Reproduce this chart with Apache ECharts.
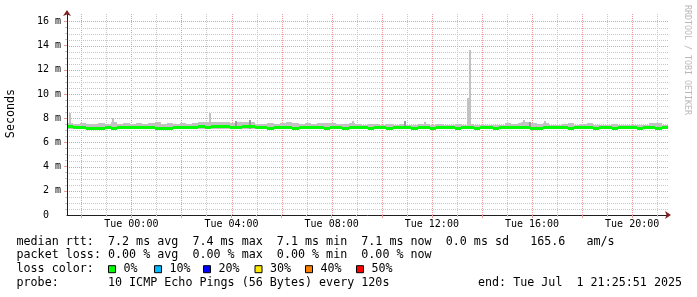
<!DOCTYPE html>
<html><head><meta charset="utf-8">
<script src="https://cdn.jsdelivr.net/npm/echarts@6/dist/echarts.min.js"></script>
<style>html,body{margin:0;padding:0;background:#fff}#c{width:697px;height:297px}</style>
</head><body><div id="c"></div>
<script>
// ---- time window (hours relative to Tue 00:00) ----
const T_START = -2.5692;   // Mon 21:25:51
const T_END = 21.4308;     // Tue 21:25:51
const STEP = 0.25;         // sample width in hours
const Y_MAX = 16.7;        // ms
const SMOKE_LO = 7.1;

// median rtt (ms), one value per STEP
const median = [
  7.28,7.27,7.20,7.18,7.18,7.18,7.20,7.18,7.20,7.20,
  7.22,7.24,7.24,7.22,7.18,7.17,7.18,7.20,7.25,7.27,
  7.27,7.28,7.27,7.30,7.33,7.32,7.22,7.26,7.28,7.35,
  7.22,7.20,7.18,7.20,7.22,7.20,7.18,7.20,7.20,7.22,
  7.20,7.18,7.20,7.20,7.18,7.20,7.22,7.20,7.18,7.20,
  7.20,7.18,7.20,7.22,7.20,7.18,7.20,7.20,7.18,7.20,
  7.20,7.20,7.18,7.20,7.20,7.18,7.20,7.20,7.18,7.20,
  7.20,7.22,7.26,7.27,7.15,7.15,7.20,7.20,7.22,7.20,
  7.18,7.20,7.22,7.20,7.18,7.20,7.20,7.18,7.20,7.22,
  7.20,7.18,7.20,7.20,7.18,7.20
];
// top of smoke (ms), one value per STEP
const smokeHi = [
  7.62,7.55,7.58,7.50,7.55,7.62,7.55,7.66,7.55,7.60,
  7.55,7.62,7.55,7.60,7.66,7.55,7.60,7.55,7.62,7.55,
  7.60,7.66,7.66,7.70,7.66,7.70,7.60,7.70,7.66,7.72,
  7.55,7.55,7.60,7.55,7.58,7.68,7.58,7.52,7.58,7.52,
  7.58,7.64,7.58,7.52,7.52,7.62,7.52,7.48,7.52,7.52,
  7.48,7.52,7.46,7.52,7.48,7.46,7.52,7.52,7.46,7.52,
  7.48,7.46,7.52,7.46,7.52,7.48,7.46,7.44,7.48,7.46,
  7.58,7.52,7.62,7.68,7.62,7.52,7.62,7.48,7.46,7.52,
  7.58,7.48,7.52,7.58,7.48,7.46,7.48,7.52,7.46,7.44,
  7.48,7.44,7.48,7.58,7.58,7.48
];
// narrow smoke spikes: [start hour, top ms, shade (0 light, 1 dark)]
const spikes = [
  [-2.50, 8.45, 0], [-0.77, 8.00, 0], [3.10, 8.40, 0], [4.14, 7.77, 1],
  [4.70, 7.85, 1], [6.30, 7.66, 0], [7.78, 7.60, 0], [8.81, 7.77, 0],
  [10.89, 7.80, 1], [11.69, 7.70, 0], [13.41, 9.70, 0], [13.49, 13.60, 0],
  [15.56, 7.65, 0], [15.64, 7.85, 0], [15.88, 7.70, 1], [16.48, 7.80, 0],
  [17.48, 7.60, 0], [18.08, 7.55, 0]
];

const yTicks = [0, 2, 4, 6, 8, 10, 12, 14, 16];
const yTickLabels = ['0', '2 m', '4 m', '6 m', '8 m', '10 m', '12 m', '14 m', '16 m'];
const xTickHours = [0, 4, 8, 12, 16, 20];
const xTickLabels = ['Tue 00:00', 'Tue 04:00', 'Tue 08:00', 'Tue 12:00', 'Tue 16:00', 'Tue 20:00'];
// grid positions: major every 2 h / 2 ms, minor every 1 h / 0.5 ms
const majorHours = [-2, 0, 2, 4, 6, 8, 10, 12, 14, 16, 18, 20];
const minorHours = [-1, 1, 3, 5, 7, 9, 11, 13, 15, 17, 19, 21];
const majorY = [2, 4, 6, 8, 10, 12, 14, 16];
const minorY = [];
for (let v = 0.5; v < 16; v += 0.5) if (v % 2 !== 0) minorY.push(v);

const legendLine1 = 'median rtt:  7.2 ms avg  7.4 ms max  7.1 ms min  7.1 ms now  0.0 ms sd   165.6   am/s';
const legendLine2 = 'packet loss: 0.00 % avg  0.00 % max  0.00 % min  0.00 % now';
const legendLine3 = 'loss color:';
const lossLabels = ['0%', '10%', '20%', '30%', '40%', '50%'];
const lossColors = ['#00ff00', '#00b8ff', '#0000ff', '#ffe800', '#ff8000', '#ff0000'];
const probeLabel = 'probe:       10 ICMP Echo Pings (56 Bytes) every 120s';
const endLabel = 'end: Tue Jul  1 21:25:51 2025';
const yAxisTitle = 'Seconds';
const watermark = 'RRDTOOL / TOBI OETIKER';

// ---- styles ----
const MONO = '"DejaVu Sans Mono", monospace';
const MGRID = '#ec9a9a';
const GRID = '#c8c8c8';
const AXIS = '#1f1f1f';
const ARROW = '#801f1f';
const SMOKE_LIGHT = '#c2c2c2';
const SMOKE_DARK = '#999999';
const GREEN = '#00ff00';
const SPIKE_W = 0.08;
const DASH = [1, 1];

const chart = echarts.init(document.getElementById('c'), null, {renderer: 'canvas'});

function rectFrom(api, t0, t1, v0, v1) {
  const a = api.coord([t0, v1]);
  const b = api.coord([t1, v0]);
  const x0 = Math.round(a[0]), x1 = Math.round(b[0]);
  const y0 = Math.round(a[1]), y1 = Math.round(b[1]);
  return {x: x0, y: y0, width: Math.max(1, x1 - x0), height: Math.max(1, y1 - y0)};
}

const legendY = [241.5, 255.3, 269.2, 283];
function txt(x, y, s, opts) {
  opts = opts || {};
  return {
    type: 'text', x: x, y: y, rotation: opts.rotation || 0, silent: true, z: 10,
    style: {
      text: s, font: (opts.size || 11.7) + 'px ' + MONO, fill: opts.fill || '#000',
      align: opts.align || 'left', textAlign: opts.align || 'left',
      verticalAlign: 'middle', textVerticalAlign: 'middle'
    }
  };
}
const graphics = [
  txt(16.5, legendY[0], legendLine1),
  txt(16.5, legendY[1], legendLine2),
  txt(16.5, legendY[2], legendLine3),
  txt(16.5, legendY[3], probeLabel),
  txt(478, legendY[3], endLabel),
  txt(11, 113.5, yAxisTitle, {rotation: Math.PI / 2, align: 'center'}),
  txt(687.5, 60, watermark, {rotation: -Math.PI / 2, align: 'center', size: 8.3, fill: '#b8b8b8'})
];
const boxX = [108.5, 154.5, 203.5, 255, 305.5, 356.5];
lossLabels.forEach((lab, i) => {
  graphics.push({type: 'rect', silent: true, z: 10,
    shape: {x: boxX[i], y: legendY[2] - 3.5, width: 7, height: 7},
    style: {fill: lossColors[i], stroke: '#000', lineWidth: 1}});
  graphics.push(txt(boxX[i] + 15, legendY[2], lab));
});

// grid line items: [value, major?]
const vGrid = majorHours.map(h => [h, 1]).concat(minorHours.map(h => [h, 0]));
const hGrid = majorY.map(v => [v, 1]).concat(minorY.map(v => [v, 0]));

chart.setOption({
  animation: false,
  backgroundColor: '#ffffff',
  grid: {left: 67, right: 29, top: 13, bottom: 82, containLabel: false},
  xAxis: [{
    type: 'value', min: T_START, max: T_END, position: 'bottom', z: 5,
    axisLine: {show: true, onZero: false, lineStyle: {color: AXIS, width: 1}},
    axisTick: {show: true, customValues: minorHours, length: 2, lineStyle: {color: GRID}},
    axisLabel: {
      show: true, customValues: xTickHours, margin: 4,
      fontFamily: MONO, fontSize: 10, color: '#000',
      formatter: v => { const k = xTickHours.indexOf(Math.round(v)); return k >= 0 ? xTickLabels[k] : ''; }
    },
    splitLine: {show: false}
  }, {
    type: 'value', min: T_START, max: T_END, position: 'bottom', z: 5,
    axisLine: {show: true, onZero: false, symbol: ['none', 'arrow'], symbolSize: [6, 6], symbolOffset: [0, 3],
      lineStyle: {color: ARROW, width: 0}},
    axisTick: {show: true, customValues: majorHours, length: 3, lineStyle: {color: MGRID}},
    axisLabel: {show: false},
    splitLine: {show: false}
  }],
  yAxis: [{
    type: 'value', min: 0, max: Y_MAX, position: 'left', z: 5,
    axisLine: {show: true, onZero: false, lineStyle: {color: AXIS, width: 1}},
    axisTick: {show: true, customValues: minorY, length: 2, lineStyle: {color: GRID}},
    axisLabel: {
      show: true, customValues: yTicks, margin: 6, fontFamily: MONO, fontSize: 10, color: '#000',
      formatter: v => { const k = yTicks.indexOf(v); if (k < 0) return ''; const s = yTickLabels[k]; return s.indexOf(' ') < 0 ? s + '  ' : s; }
    },
    splitLine: {show: false}
  }, {
    type: 'value', min: 0, max: Y_MAX, position: 'left', z: 5,
    axisLine: {show: true, onZero: false, symbol: ['none', 'arrow'], symbolSize: [6, 6], symbolOffset: [0, 3],
      lineStyle: {color: ARROW, width: 0}},
    axisTick: {show: true, customValues: majorY, length: 3, lineStyle: {color: MGRID}},
    axisLabel: {show: false},
    splitLine: {show: false}
  }],
  graphic: graphics,
  series: [
    {
      type: 'custom', name: 'vgrid', z: 0, clip: false, silent: true,
      data: vGrid, encode: {x: 0},
      renderItem: (params, api) => {
        const h = api.value(0), major = api.value(1);
        const x = Math.round(api.coord([h, 0])[0]) + 0.5;
        const top = api.coord([h, Y_MAX])[1];
        const bot = api.coord([h, 0])[1];
        return {type: 'line', shape: {x1: x, y1: bot, x2: x, y2: top},
          style: {stroke: major ? MGRID : GRID, lineWidth: 1, lineDash: DASH}};
      }
    },
    {
      type: 'custom', name: 'hgrid', z: 0, clip: false, silent: true,
      data: hGrid, encode: {y: 0},
      renderItem: (params, api) => {
        const v = api.value(0), major = api.value(1);
        const y = Math.round(api.coord([T_START, v])[1]) + 0.5;
        const x0 = api.coord([T_START, v])[0];
        const x1 = api.coord([T_END, v])[0];
        return {type: 'line', shape: {x1: x0, y1: y, x2: x1, y2: y},
          style: {stroke: major ? MGRID : GRID, lineWidth: 1, lineDash: DASH}};
      }
    },
    {
      type: 'custom', name: 'smoke', z: 2, clip: true, silent: true,
      data: smokeHi.map((hi, i) => [T_START + i * STEP, hi]),
      encode: {x: 0, y: 1},
      renderItem: (params, api) => {
        const t = api.value(0), hi = api.value(1);
        return {type: 'rect', shape: rectFrom(api, t, t + STEP, SMOKE_LO, hi), style: {fill: SMOKE_LIGHT}};
      }
    },
    {
      type: 'custom', name: 'spikes', z: 3, clip: true, silent: true,
      data: spikes,
      encode: {x: 0, y: 1},
      renderItem: (params, api) => {
        const t = api.value(0), hi = api.value(1), shade = api.value(2);
        return {type: 'rect', shape: rectFrom(api, t, t + SPIKE_W, SMOKE_LO, hi),
          style: {fill: shade ? SMOKE_DARK : SMOKE_LIGHT}};
      }
    },
    {
      type: 'custom', name: 'median', z: 4, clip: true, silent: true,
      data: median.map((m, i) => [T_START + i * STEP, m]),
      encode: {x: 0, y: 1},
      renderItem: (params, api) => {
        const t = api.value(0), m = api.value(1);
        const a = api.coord([t, m]);
        const b = api.coord([t + STEP, m]);
        const x0 = Math.round(a[0]), x1 = Math.round(b[0]);
        return {type: 'rect', shape: {x: x0, y: Math.round(a[1] - 1.5), width: x1 - x0, height: 3},
          style: {fill: GREEN}};
      }
    }
  ]
});
</script></body></html>
